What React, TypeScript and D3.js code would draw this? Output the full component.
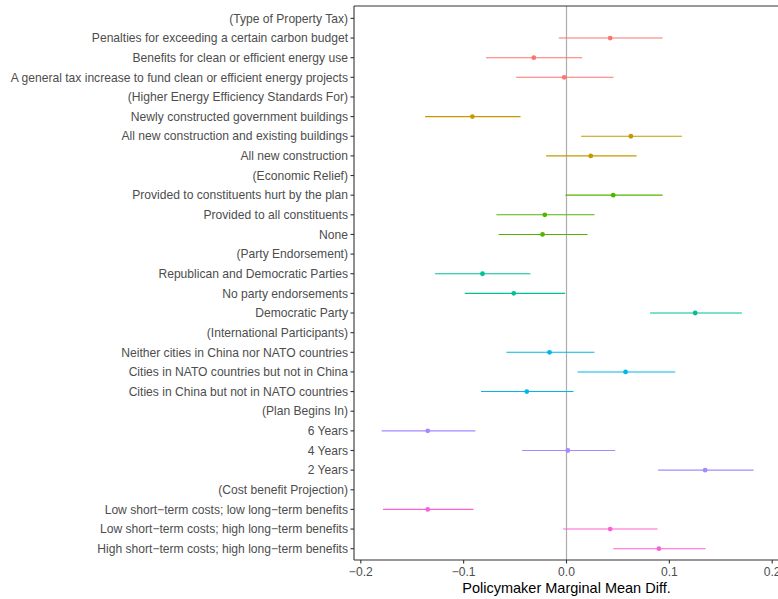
import React from "react";
import * as d3 from "d3";

const labels = [
  "(Type of Property Tax)",
  "Penalties for exceeding a certain carbon budget",
  "Benefits for clean or efficient energy use",
  "A general tax increase to fund clean or efficient energy projects",
  "(Higher Energy Efficiency Standards For)",
  "Newly constructed government buildings",
  "All new construction and existing buildings",
  "All new construction",
  "(Economic Relief)",
  "Provided to constituents hurt by the plan",
  "Provided to all constituents",
  "None",
  "(Party Endorsement)",
  "Republican and Democratic Parties",
  "No party endorsements",
  "Democratic Party",
  "(International Participants)",
  "Neither cities in China nor NATO countries",
  "Cities in NATO countries but not in China",
  "Cities in China but not in NATO countries",
  "(Plan Begins In)",
  "6 Years",
  "4 Years",
  "2 Years",
  "(Cost benefit Projection)",
  "Low short\u2212term costs; low long\u2212term benefits",
  "Low short\u2212term costs; high long\u2212term benefits",
  "High short\u2212term costs; high long\u2212term benefits",
];

// group index per row (null for header rows)
const groups = [null, 0, 0, 0, null, 1, 1, 1, null, 2, 2, 2, null, 3, 3, 3, null, 4, 4, 4, null, 5, 5, 5, null, 6, 6, 6];

const estimates = [null, 0.0425, -0.0318, -0.0023, null, -0.0915, 0.0626, 0.0236, null, 0.0454, -0.0211, -0.0233, null, -0.0817, -0.0513, 0.1251, null, -0.0165, 0.0574, -0.0386, null, -0.1349, 0.0013, 0.1348, null, -0.1349, 0.0425, 0.0898];
const lower = [null, -0.0075, -0.0782, -0.049, null, -0.1375, 0.0142, -0.0198, null, -0.001, -0.0681, -0.0661, null, -0.1278, -0.0989, 0.0813, null, -0.0584, 0.0107, -0.0831, null, -0.1797, -0.0432, 0.0891, null, -0.1784, -0.0033, 0.0454];
const upper = [null, 0.0934, 0.0152, 0.0457, null, -0.0447, 0.1122, 0.0681, null, 0.0934, 0.0272, 0.0204, null, -0.035, -0.0013, 0.1705, null, 0.0272, 0.1057, 0.0068, null, -0.0886, 0.0473, 0.1819, null, -0.0905, 0.0885, 0.1352];

const groupColors = ["#F8766D", "#C49A00", "#53B400", "#00C094", "#00B6EB", "#A58AFF", "#FB61D7"];
const xTicks = [-0.2, -0.1, 0.0, 0.1, 0.2];
const xTitle = "Policymaker Marginal Mean Diff.";

export default function App() {
  const W = 778, H = 599;
  const panel = { left: 354, right: 779, top: 6, bottom: 560 };
  const x = d3.scaleLinear().domain([-0.2, 0.2]).range([360.8, 772.2]);
  const y = d3.scalePoint<string>().domain(labels).range([18.4, 548.7]);
  const font = "'Liberation Sans', Arial, Helvetica, sans-serif";
  const fmt = (v: number) => (v < 0 ? "\u2212" : "") + d3.format(".1f")(Math.abs(v));

  return (
    <svg width={W} height={H} style={{ position: "absolute", left: 0, top: 0, background: "#fff" }}>
      <rect x={0} y={0} width={W} height={H} fill="#fff" />
      {/* zero line */}
      <line x1={x(0)} x2={x(0)} y1={panel.top} y2={panel.bottom} stroke="#ABABAB" strokeWidth={1.2} />
      {/* error bars and points */}
      {labels.map((lab, i) => {
        const g = groups[i];
        if (g === null || estimates[i] === null) return null;
        const c = groupColors[g];
        const yy = y(lab)!;
        return (
          <g key={lab}>
            <line x1={x(lower[i]!)} x2={x(upper[i]!)} y1={yy} y2={yy} stroke={c} strokeWidth={1.1} />
            <circle cx={x(estimates[i]!)} cy={yy} r={2.4} fill={c} />
          </g>
        );
      })}
      {/* panel border */}
      <line x1={panel.left} x2={panel.left} y1={panel.top} y2={panel.bottom} stroke="#333" strokeWidth={1.1} />
      <line x1={panel.left} x2={panel.right} y1={panel.top} y2={panel.top} stroke="#333" strokeWidth={1.1} />
      <line x1={panel.left} x2={panel.right} y1={panel.bottom} y2={panel.bottom} stroke="#333" strokeWidth={1.1} />
      {/* y axis ticks and labels */}
      {labels.map((lab) => {
        const yy = y(lab)!;
        return (
          <g key={"t" + lab}>
            <line x1={panel.left - 3.5} x2={panel.left} y1={yy} y2={yy} stroke="#333" strokeWidth={1.1} />
            <text x={panel.left - 6} y={yy} dy="0.35em" textAnchor="end" fontFamily={font} fontSize={12.1} fill="#4D4D4D">
              {lab}
            </text>
          </g>
        );
      })}
      {/* x axis ticks and labels */}
      {xTicks.map((t) => (
        <g key={"x" + t}>
          <line x1={x(t)} x2={x(t)} y1={panel.bottom} y2={panel.bottom + 3.5} stroke="#333" strokeWidth={1.1} />
          <text x={x(t)} y={panel.bottom + 16} textAnchor="middle" fontFamily={font} fontSize={12.1} fill="#4D4D4D">
            {fmt(t)}
          </text>
        </g>
      ))}
      <text x={(panel.left + panel.right) / 2} y={593} textAnchor="middle" fontFamily={font} fontSize={14.5} fill="#000">
        {xTitle}
      </text>
    </svg>
  );
}
